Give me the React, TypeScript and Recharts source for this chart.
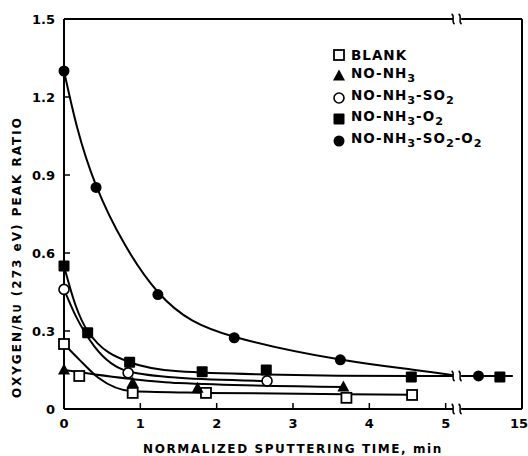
import { ComposedChart, Line, Scatter, XAxis, YAxis, Legend, ReferenceDot } from 'recharts';

// sputtering time (min) and O/Ru peak ratio
const blankT = [0, 0.2, 0.9, 1.86, 3.7, 4.56];
const blankV = [0.25, 0.127, 0.062, 0.062, 0.043, 0.054];
const nh3T = [0, 0.9, 1.75, 3.66];
const nh3V = [0.15, 0.1, 0.08, 0.085];
const so2T = [0, 0.84, 2.66];
const so2V = [0.46, 0.139, 0.108];
const o2T = [0, 0.31, 0.86, 1.81, 2.65, 4.55, 12.1];
const o2V = [0.55, 0.293, 0.18, 0.143, 0.15, 0.123, 0.123];
const so2o2T = [0, 0.42, 1.23, 2.23, 3.62, 9.3];
const so2o2V = [1.3, 0.852, 0.44, 0.274, 0.189, 0.127];

// fitted curves as drawn in the figure (null = axis break)
const blankFitT = [0, 0.2, 0.45, 0.9, 1.86, 3.7, 4.56];
const blankFitV = [0.25, 0.19, 0.12, 0.068, 0.062, 0.057, 0.055];
const nh3FitT = [0, 0.9, 1.5, 3.68];
const nh3FitV = [0.15, 0.115, 0.1, 0.085];
const so2FitT = [0, 0.15, 0.4, 0.84, 1.5, 2.66];
const so2FitV = [0.46, 0.36, 0.24, 0.145, 0.12, 0.108];
const o2FitT = [0, 0.15, 0.31, 0.86, 1.5, 2.65, 4.55, 6, 6.5, 7, 13.8];
const o2FitV = [0.55, 0.4, 0.3, 0.18, 0.145, 0.133, 0.127, 0.127, null, 0.127, 0.127];
const so2o2FitT = [0, 0.42, 1.23, 2.23, 3.62, 4.55, 6];
const so2o2FitV = [1.3, 0.86, 0.45, 0.278, 0.19, 0.152, 0.13];

const xTicks = [0, 1, 2, 3, 4, 5, 6];
const yTicks = [0, 0.3, 0.6, 0.9, 1.2, 1.5];
const breakAt = 5.15;

// beyond 5 min the axis is compressed (5 -> 15 min in one tick)
const toAxis = (t: number) => (t <= 5 ? t : 5 + (t - 5) / 10);
const rows = (ts: number[], vs: (number | null)[]) => ts.map((t, i) => ({ x: toAxis(t), y: vs[i] }));

const FONT = '"DejaVu Sans", sans-serif';

const OpenSquare = ({ cx, cy }: any) => (
  <rect x={cx - 5} y={cy - 5} width={10} height={10} fill="#fff" stroke="#000" strokeWidth={1.8} />
);
const FilledSquare = ({ cx, cy }: any) => <rect x={cx - 5.5} y={cy - 5.5} width={11} height={11} fill="#000" rx={1} />;
const Triangle = ({ cx, cy }: any) => <path d={`M${cx},${cy - 6.5} L${cx + 6},${cy + 4.5} L${cx - 6},${cy + 4.5} Z`} fill="#000" />;
const OpenCircle = ({ cx, cy }: any) => <circle cx={cx} cy={cy} r={5} fill="#fff" stroke="#000" strokeWidth={1.6} />;
const FilledCircle = ({ cx, cy }: any) => <circle cx={cx} cy={cy} r={5.5} fill="#000" />;

const series = [
  { name: 'blank', fit: rows(blankFitT, blankFitV), pts: rows(blankT, blankV), shape: OpenSquare, curve: 'monotone' },
  { name: 'nh3', fit: rows(nh3FitT, nh3FitV), pts: rows(nh3T, nh3V), shape: Triangle, curve: 'monotone' },
  { name: 'so2', fit: rows(so2FitT, so2FitV), pts: rows(so2T, so2V), shape: OpenCircle, curve: 'monotone' },
  { name: 'o2', fit: rows(o2FitT, o2FitV), pts: rows(o2T, o2V), shape: FilledSquare, curve: 'monotone' },
  { name: 'so2o2', fit: rows(so2o2FitT, so2o2FitV), pts: rows(so2o2T, so2o2V), shape: FilledCircle, curve: 'natural' },
];

const legendItems = [
  { shape: OpenSquare, label: <>BLANK</> },
  { shape: Triangle, label: <>NO-NH<sub>3</sub></> },
  { shape: OpenCircle, label: <>NO-NH<sub>3</sub>-SO<sub>2</sub></> },
  { shape: FilledSquare, label: <>NO-NH<sub>3</sub>-O<sub>2</sub></> },
  { shape: FilledCircle, label: <>NO-NH<sub>3</sub>-SO<sub>2</sub>-O<sub>2</sub></> },
];

function LegendBox() {
  return (
    <div style={{ fontFamily: FONT, fontWeight: 700, fontSize: 13.5, letterSpacing: 1, color: '#000' }}>
      {legendItems.map((it, i) => {
        const Shape = it.shape;
        return (
          <div key={i} style={{ display: 'flex', alignItems: 'center', height: 21.5, lineHeight: '14px' }}>
            <svg width={14} height={14} style={{ marginRight: 5 }}>
              <Shape cx={7} cy={7} />
            </svg>
            <span>{it.label}</span>
          </div>
        );
      })}
    </div>
  );
}

// the "}}" marks where the axis (and curve) is broken
const BreakMark = ({ cx, cy }: any) => {
  if (cx == null || cy == null) return null;
  const s = (x: number) => `M${x - 1.5},${cy - 5} C${x + 2.5},${cy - 3} ${x - 2.5},${cy + 3} ${x + 1.5},${cy + 5}`;
  return (
    <g>
      <rect x={cx - 4} y={cy - 2} width={8} height={4} fill="#fff" />
      <path d={s(cx - 4)} stroke="#000" strokeWidth={1.5} fill="none" />
      <path d={s(cx + 3)} stroke="#000" strokeWidth={1.5} fill="none" />
    </g>
  );
};

// bottom tick label; the last one ("15") sits flush with the right edge
const XTick = ({ x, y, payload }: any) => {
  const last = payload.value === 6;
  return (
    <text
      x={last ? x + 6 : x}
      y={y}
      dy="0.71em"
      textAnchor={last ? 'end' : 'middle'}
      fontFamily={FONT}
      fontWeight={700}
      fontSize={13}
      fill="#000"
    >
      {last ? '15' : payload.value}
    </text>
  );
};

function YTitle(props: any) {
  const vb = props.viewBox || { x: 0, y: 19, height: 390 };
  const cx = vb.x + 21;
  const cy = vb.y + vb.height / 2 + 43;
  return (
    <text
      transform={`translate(${cx},${cy}) rotate(-90)`}
      textAnchor="middle"
      fontFamily={FONT}
      fontWeight={700}
      fontSize={12}
      letterSpacing={2}
      fill="#000"
    >
      OXYGEN/R<tspan fontSize={10}>U</tspan> (273 eV) PEAK RATIO
    </text>
  );
}

const axisLine = { stroke: '#000', strokeWidth: 2 };
const tickLine = { stroke: '#000', strokeWidth: 1.5 };
const tickStyle = { fontFamily: FONT, fontWeight: 700, fontSize: 13, fill: '#000' };

export default function App() {
  return (
    <div style={{ position: 'absolute', left: 0, top: 0, width: 528, height: 456, background: '#fff' }}>
      <ComposedChart width={528} height={456} margin={{ top: 18, right: 5, bottom: 0, left: 0 }}>
        <XAxis
          type="number"
          dataKey="x"
          domain={[0, 6]}
          ticks={xTicks}
          axisLine={axisLine}
          tickLine={tickLine}
          tickSize={-6}
          tickMargin={16}
          tick={<XTick />}
          height={47}
          interval={0}
          label={{
            value: 'NORMALIZED SPUTTERING TIME, min',
            position: 'insideBottom',
            offset: 3,
            style: { fontFamily: FONT, fontWeight: 700, fontSize: 12, letterSpacing: 1.6, fill: '#000' },
          }}
        />
        <XAxis
          xAxisId="top"
          orientation="top"
          type="number"
          dataKey="x"
          domain={[0, 6]}
          ticks={xTicks.slice(1, 6)}
          axisLine={axisLine}
          tickLine={tickLine}
          tickSize={-6}
          tick={false}
          height={1}
        />
        <YAxis
          type="number"
          domain={[0, 1.5]}
          ticks={yTicks}
          tickFormatter={(v: number) => (v === 0 ? '0' : v.toFixed(1))}
          axisLine={axisLine}
          tickLine={tickLine}
          tickSize={-6}
          tickMargin={15}
          tick={tickStyle}
          width={64}
          interval={0}
          label={<YTitle />}
        />
        <YAxis
          yAxisId="right"
          orientation="right"
          type="number"
          domain={[0, 1.5]}
          ticks={yTicks.slice(1, 5)}
          axisLine={axisLine}
          tickLine={tickLine}
          tickSize={-6}
          tick={false}
          width={1}
        />
        {series.map((s) => (
          <Line
            key={s.name + '-fit'}
            data={s.fit}
            dataKey="y"
            type={s.curve as any}
            stroke="#000"
            strokeWidth={2}
            dot={false}
            activeDot={false}
            isAnimationActive={false}
            legendType="none"
          />
        ))}
        {series.map((s) => (
          <Scatter
            key={s.name + '-pts'}
            data={s.pts}
            dataKey="y"
            shape={s.shape}
            isAnimationActive={false}
            legendType="none"
          />
        ))}
        <ReferenceDot x={breakAt} y={0} r={0} shape={BreakMark} ifOverflow="visible" />
        <ReferenceDot x={breakAt} y={1.5} r={0} shape={BreakMark} ifOverflow="visible" />
        <ReferenceDot x={breakAt} y={0.127} r={0} shape={BreakMark} ifOverflow="visible" />
        <Legend
          layout="vertical"
          align="center"
          verticalAlign="middle"
          content={() => <LegendBox />}
          wrapperStyle={{ left: 332, top: 44, width: 190 }}
        />
      </ComposedChart>
    </div>
  );
}
